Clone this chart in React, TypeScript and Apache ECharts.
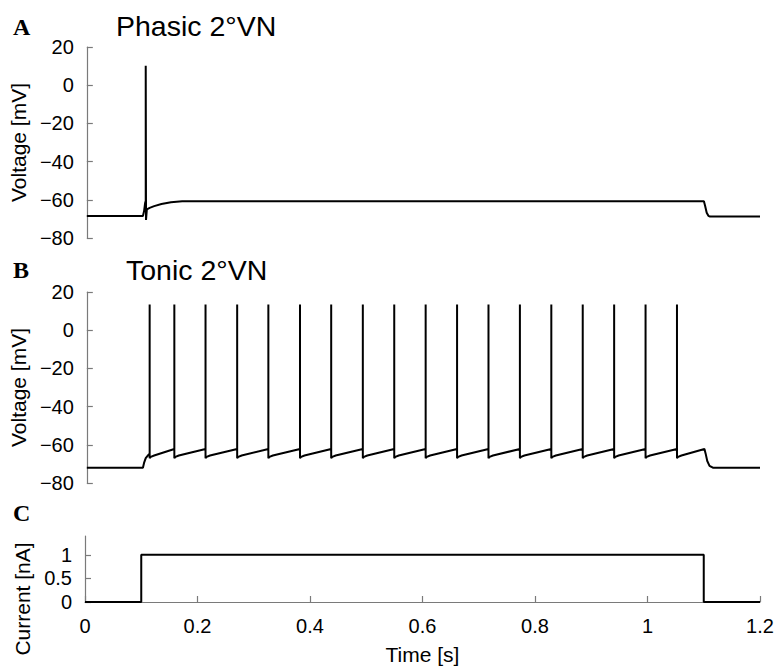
import React, { useEffect, useRef } from "react";
import * as echarts from "echarts";

// ---- Panel A: phasic 2°VN membrane voltage (time [s], voltage [mV]) ----
const phasicTime = [0, 0.1, 0.102, 0.104, 0.105, 0.105, 0.1055, 0.107, 0.112, 0.12, 0.133, 0.15, 0.17, 0.2, 0.3, 0.6, 1.1, 1.102, 1.105, 1.108, 1.111, 1.2];
const phasicVoltage = [-68.5, -68.5, -66, -61.5, -60.5, 10.2, -70.6, -65, -64.2, -63.3, -62.2, -61.3, -60.8, -60.7, -60.7, -60.7, -60.7, -63, -66.8, -68.4, -68.8, -68.8];

// ---- Panel B: tonic 2°VN membrane voltage ----
const tonicLeadTime = [0, 0.1, 0.102, 0.105, 0.109, 0.112];
const tonicLeadVoltage = [-72, -72, -69.5, -67, -65.5, -64.5];
const tonicSpikeTimes = [0.112, 0.156, 0.2116, 0.268, 0.3236, 0.38, 0.4356, 0.492, 0.548, 0.604, 0.66, 0.716, 0.772, 0.828, 0.884, 0.94, 0.996, 1.052];
const tonicSpikePeak = 13.4;
const tonicSpikeTrough = -67;
const tonicPreSpike = -62.2;
const tonicPostSpikeEarly = -66.3;
const tonicPostSpikeLate = -65.6;
const tonicTailTime = [1.101, 1.103, 1.106, 1.11, 1.116, 1.2];
const tonicTailVoltage = [-62.2, -64.5, -68.5, -71, -72, -72];

// ---- Panel C: injected current (time [s], current [nA]) ----
const currentTime = [0, 0.1, 0.1, 1.1, 1.1, 1.2];
const currentValue = [0, 0, 1, 1, 0, 0];

// ---- axes ----
const voltageTicks = [-80, -60, -40, -20, 0, 20];
const currentTicks = [0, 0.5, 1];
const timeTicks = [0, 0.2, 0.4, 0.6, 0.8, 1, 1.2];

const pairs = (xs: number[], ys: number[]) => xs.map((x, i) => [x, ys[i]]);

function buildTonic() {
  const out: number[][] = pairs(tonicLeadTime, tonicLeadVoltage);
  tonicSpikeTimes.forEach((ts, i) => {
    if (i > 0) out.push([ts, tonicPreSpike]);
    out.push([ts, tonicSpikePeak]);
    out.push([ts, tonicSpikeTrough]);
    out.push([ts + 0.002, tonicPostSpikeEarly]);
    out.push([ts + 0.008, tonicPostSpikeLate]);
  });
  return out.concat(pairs(tonicTailTime, tonicTailVoltage));
}

const FONT = "'Liberation Sans', Arial, Helvetica, sans-serif";
const SERIF_BOLD = "bold 24px 'Liberation Serif', 'Times New Roman', serif";
const AXIS_GRAY = "#7a7a7a";
const minusFmt = (v: number) => (v < 0 ? "\u2212" + Math.abs(v) : String(v));

const yAxisBase = {
  axisLine: { show: true, lineStyle: { color: AXIS_GRAY, width: 1.2 } },
  axisTick: { show: true, inside: true, length: 6, lineStyle: { color: AXIS_GRAY, width: 1.2 } },
  axisLabel: { color: "#000", fontSize: 20, fontFamily: FONT, margin: 13, formatter: minusFmt },
  splitLine: { show: false },
  nameLocation: "middle" as const,
  nameGap: 49,
  nameTextStyle: { color: "#000", fontSize: 21, fontFamily: FONT },
};

export default function App() {
  const ref = useRef<HTMLDivElement>(null);
  useEffect(() => {
    if (!ref.current) return;
    const chart = echarts.init(ref.current, null, { renderer: "svg" });
    const lineSeries = (data: number[][], idx: number) => ({
      type: "line",
      xAxisIndex: idx,
      yAxisIndex: idx,
      data,
      showSymbol: false,
      symbol: "none",
      lineStyle: { color: "#000", width: 2 },
      z: 5,
    });
    chart.setOption({
      animation: false,
      backgroundColor: "#fff",
      grid: [
        { left: 85, right: 19, top: 47, height: 191 },
        { left: 85, right: 19, top: 292, height: 191 },
        { left: 85, right: 19, top: 536, height: 67 },
      ],
      xAxis: [0, 1].map((g) => ({ type: "value", gridIndex: g, min: 0, max: 1.2, show: false })).concat([
        {
          type: "value",
          gridIndex: 2,
          min: 0,
          max: 1.2,
          interval: 0.2,
          show: true,
          name: "Time [s]",
          nameLocation: "middle",
          nameGap: 42,
          nameTextStyle: { color: "#000", fontSize: 21, fontFamily: FONT },
          axisLine: { show: true, lineStyle: { color: AXIS_GRAY, width: 1.2 } },
          axisTick: { show: true, inside: true, length: 6, lineStyle: { color: AXIS_GRAY, width: 1.2 }, customValues: timeTicks },
          axisLabel: { color: "#000", fontSize: 20, fontFamily: FONT, margin: 14, customValues: timeTicks },
          splitLine: { show: false },
        } as any,
      ]),
      yAxis: [
        { ...yAxisBase, type: "value", gridIndex: 0, min: -80, max: 20, interval: 20, name: "Voltage [mV]",
          axisTick: { ...yAxisBase.axisTick, customValues: voltageTicks }, axisLabel: { ...yAxisBase.axisLabel, customValues: voltageTicks } },
        { ...yAxisBase, type: "value", gridIndex: 1, min: -80, max: 20, interval: 20, name: "Voltage [mV]",
          axisTick: { ...yAxisBase.axisTick, customValues: voltageTicks }, axisLabel: { ...yAxisBase.axisLabel, customValues: voltageTicks } },
        { ...yAxisBase, type: "value", gridIndex: 2, min: 0, max: 1.4, interval: 0.5, name: "",
          axisTick: { ...yAxisBase.axisTick, customValues: currentTicks }, axisLabel: { ...yAxisBase.axisLabel, customValues: currentTicks } },
      ],
      series: [
        lineSeries(pairs(phasicTime, phasicVoltage), 0),
        lineSeries(buildTonic(), 1),
        lineSeries(pairs(currentTime, currentValue), 2),
      ],
      graphic: [
        { type: "text", left: 13, top: 15, style: { text: "A", font: SERIF_BOLD, fill: "#000" } },
        { type: "text", left: 13, top: 258, style: { text: "B", font: SERIF_BOLD, fill: "#000" } },
        { type: "text", left: 13, top: 501, style: { text: "C", font: SERIF_BOLD, fill: "#000" } },
        { type: "text", left: 116, top: 11, style: { text: "Phasic 2°VN", font: `28.5px ${FONT}`, fill: "#000" } },
        { type: "text", left: 126, top: 255, style: { text: "Tonic 2°VN", font: `28.5px ${FONT}`, fill: "#000" } },
        {
          type: "text",
          x: 22,
          y: 599,
          rotation: Math.PI / 2,
          style: { text: "Current [nA]", font: `21px ${FONT}`, fill: "#000", align: "center", verticalAlign: "middle" },
        },
      ],
    });
    return () => chart.dispose();
  }, []);
  return <div ref={ref} style={{ position: "fixed", left: 0, top: 0, width: 779, height: 666 }} />;
}
